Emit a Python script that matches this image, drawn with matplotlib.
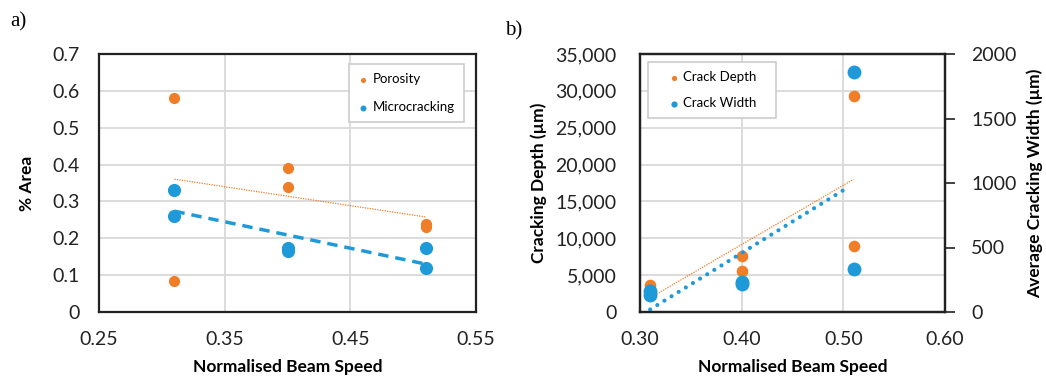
import numpy as np
import matplotlib
matplotlib.use("Agg")
import matplotlib.pyplot as plt
from matplotlib.ticker import FuncFormatter

plt.rcParams['font.family'] = ['Lato', 'DejaVu Sans']

ORANGE = "#F07D28"
BLUE = "#1E9AD8"
GRID = "#D9D9D9"
INK = "#222222"

# ------------------------------------------------------------
# DATA
# ------------------------------------------------------------
# panel a)
speed_a = [0.31, 0.31, 0.40, 0.40, 0.51, 0.51]
porosity = [0.58, 0.085, 0.39, 0.34, 0.24, 0.23]
microcracking = [0.33, 0.26, 0.175, 0.165, 0.175, 0.12]

# panel b)
speed_b = [0.31, 0.31, 0.40, 0.40, 0.51, 0.51]
crack_depth = [3650, 3000, 7600, 5600, 29300, 9000]
crack_width = [165, 130, 235, 215, 1862, 333]


def trend(x, y):
    x = np.asarray(x, float)
    k, b = np.polyfit(x, y, 1)
    xs = np.array([x.min(), x.max()])
    return xs, k * xs + b


def style_spines(a):
    for s in a.spines.values():
        s.set_linewidth(1.6)
        s.set_color(INK)


fig = plt.figure(figsize=(10.46, 3.76), dpi=100)

# ------------------------------------------------------------
# PANEL A
# ------------------------------------------------------------
ax = fig.add_axes([99 / 1046, 64 / 376, 377 / 1046, 258 / 376])
ax.scatter(speed_a, porosity, s=65, color=ORANGE, zorder=3, label="Porosity",
           linewidths=0)
ax.scatter(speed_a, microcracking, s=90, color=BLUE, zorder=3,
           label="Microcracking", linewidths=0)
tx, ty = trend(speed_a, porosity)
ax.plot(tx, ty, color=ORANGE, lw=0.9, ls=(0, (1, 1)), zorder=2)
tx, ty = trend(speed_a, microcracking)
ax.plot(tx, ty, color=BLUE, lw=2.5, ls=(0, (3, 2)), zorder=2)

ax.set_xlim(0.25, 0.55)
ax.set_ylim(0, 0.7)
ax.set_xticks([0.25, 0.35, 0.45, 0.55])
ax.set_yticks(np.arange(0, 0.71, 0.1))
ax.xaxis.set_major_formatter(FuncFormatter(lambda v, p: f"{v:.2f}"))
ax.yaxis.set_major_formatter(FuncFormatter(lambda v, p: "0" if v == 0 else f"{v:.1f}"))
ax.grid(True, color=GRID, lw=1.3)
ax.set_axisbelow(True)
ax.tick_params(axis="y", length=0, labelsize=14, pad=14, colors=INK)
ax.tick_params(axis="x", length=0, labelsize=14, pad=14, colors=INK)
style_spines(ax)
ax.set_xlabel("Normalised Beam Speed", fontsize=12.5, fontweight="bold", va="center")
ax.set_ylabel("% Area", fontsize=12.5, fontweight="bold", va="center")
ax.xaxis.set_label_coords(0.5, (312 - 367) / 258)
ax.yaxis.set_label_coords((27 - 99) / 377, 0.5)
leg = ax.legend(loc="upper right", bbox_to_anchor=(0.968, 0.961), fontsize=9.5,
                markerscale=0.45, handlelength=0.8, handletextpad=0.3,
                borderpad=0.7, labelspacing=1.2, fancybox=False,
                edgecolor="#CCCCCC", framealpha=1, borderaxespad=0)
leg.get_frame().set_linewidth(1.2)

# ------------------------------------------------------------
# PANEL B
# ------------------------------------------------------------
bx = fig.add_axes([640 / 1046, 64 / 376, 305 / 1046, 258 / 376])
bx.scatter(speed_b, crack_depth, s=70, color=ORANGE, zorder=3,
           label="Crack Depth", linewidths=0)
tx, ty = trend(speed_b, crack_depth)
bx.plot(tx, ty, color=ORANGE, lw=0.9, ls=(0, (1, 1)), zorder=2)

bx2 = bx.twinx()
bx2.scatter(speed_b, crack_width, s=100, color=BLUE, zorder=3,
            label="Crack Width", linewidths=0)
tx, ty = trend(speed_b, crack_width)
bx2.plot([tx[0], tx[0] + 0.97 * (tx[1] - tx[0])],
         [ty[0], ty[0] + 0.97 * (ty[1] - ty[0])],
         color=BLUE, lw=3, ls=(0, (0.01, 2.0)), dash_capstyle="round", zorder=2)

bx.set_xlim(0.30, 0.60)
bx.set_ylim(0, 35000)
bx2.set_ylim(0, 2000)
bx.set_xticks([0.30, 0.40, 0.50, 0.60])
bx.set_yticks(np.arange(0, 35001, 5000))
bx2.set_yticks(np.arange(0, 2001, 500))
bx.xaxis.set_major_formatter(FuncFormatter(lambda v, p: f"{v:.2f}"))
bx.yaxis.set_major_formatter(FuncFormatter(lambda v, p: f"{int(v):,}"))
bx.grid(True, color=GRID, lw=1.3)
bx.set_axisbelow(True)
bx.tick_params(axis="y", length=0, labelsize=14, pad=17, colors=INK)
bx.tick_params(axis="x", length=0, labelsize=14, pad=14, colors=INK)
bx2.tick_params(axis="y", length=7, width=1.2, direction="out", labelsize=14,
                pad=12, colors=INK)
style_spines(bx)
style_spines(bx2)
bx.set_xlabel("Normalised Beam Speed", fontsize=12.5, fontweight="bold", va="center")
bx.set_ylabel("Cracking Depth (µm)", fontsize=12.5, fontweight="bold", va="center")
bx2.set_ylabel("Average Cracking Width (µm)", fontsize=12.5, fontweight="bold",
               va="center")
bx.xaxis.set_label_coords(0.5, (312 - 367) / 258)
bx.yaxis.set_label_coords((539 - 640) / 305, 0.5)
bx2.yaxis.set_label_coords((1035 - 640) / 305, 0.5)

h1, l1 = bx.get_legend_handles_labels()
h2, l2 = bx2.get_legend_handles_labels()
leg = bx2.legend(h1 + h2, l1 + l2, loc="upper left",
                 bbox_to_anchor=(0.026, 0.3, 128 / 305, 0.669), mode="expand",
                 fontsize=9.5, markerscale=0.45, handlelength=2.5,
                 handletextpad=-0.55, borderpad=0.7, labelspacing=1.05,
                 fancybox=False, edgecolor="#CCCCCC", framealpha=1,
                 borderaxespad=0)
leg.get_frame().set_linewidth(1.2)

# panel letters
fig.text(0.010, 0.93, "a)", fontsize=15, family="Liberation Serif")
fig.text(0.483, 0.905, "b)", fontsize=15, family="Liberation Serif")

fig.savefig("out.png", dpi=100)
